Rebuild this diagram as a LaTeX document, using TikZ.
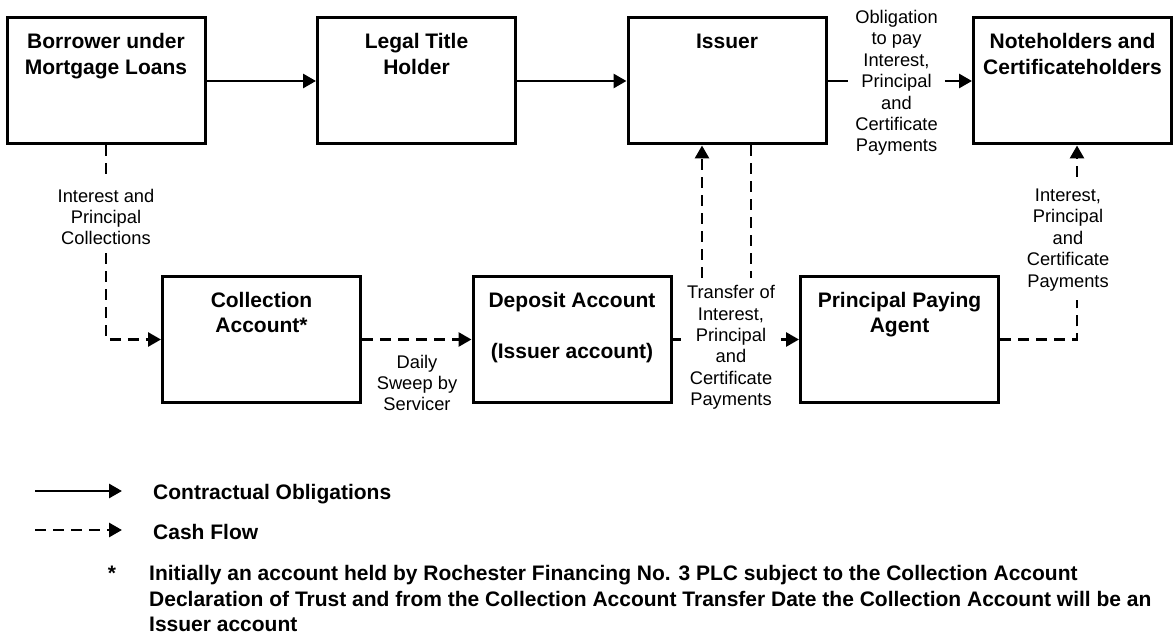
\documentclass[tikz,border=0pt]{standalone}
\usepackage{fontspec}
\setmainfont{Liberation Sans}
\usetikzlibrary{arrows.meta,calc}
\newcommand\titlefont{\fontsize{21}{25.3}\selectfont\bfseries}
\newcommand\lblfont{\fontsize{18.3}{21.4}\selectfont}
\begin{document}
\begin{tikzpicture}[x=1pt,y=-1pt,
  box/.style={draw, line width=3pt, minimum width=198pt, minimum height=126pt, inner sep=0pt},
  title/.style={anchor=north, inner sep=0pt, align=center, font=\titlefont},
  lbl/.style={align=center, font=\lblfont, inner xsep=7pt, inner ysep=8pt},
  tip/.style={-{Triangle[length=13pt,width=14pt]}},
  plainln/.style={line width=2.8pt},
  solidln/.style={plainln, tip},
  cashln/.style={line width=2.8pt, dash pattern=on 11pt off 7pt},
  cashar/.style={cashln, tip},
  legtext/.style={anchor=west, inner sep=0pt, font=\titlefont}]
\useasboundingbox (0,0) rectangle (1176,636);

% boxes
\node[box] (bor)  at (106,81) {};
\node[box] (leg)  at (416.5,81) {};
\node[box] (iss)  at (727,81) {};
\node[box] (note) at (1072.5,81) {};
\node[box] (col)  at (261.5,339.5) {};
\node[box] (dep)  at (572,339.5) {};
\node[box] (ppa)  at (899.5,339.5) {};

% box titles
\node[title] (borT)  at ([yshift=-17pt]bor.north)  {Borrower under\\Mortgage Loans};
\node[title] (legT)  at ([yshift=-17pt]leg.north)  {Legal Title\\Holder};
\node[title] (issT)  at ([yshift=-17pt]iss.north)  {Issuer};
\node[title] (noteT) at ([yshift=-17pt]note.north) {Noteholders and\\Certificateholders};
\node[title] (colT)  at ([yshift=-17pt]col.north)  {Collection\\Account*};
\node[title] (depT)  at ([yshift=-17pt]dep.north)  {Deposit Account\\[25.3pt](Issuer account)};
\node[title] (ppaT)  at ([yshift=-17pt]ppa.north)  {Principal Paying\\Agent};

% labels
\node[lbl] (obl) at (896.5,83) {Obligation\\to pay\\Interest,\\Principal\\and\\Certificate\\Payments};
\node[lbl] (ic)  at (106,217) {Interest and\\Principal\\Collections};
\node[lbl] (dsw) at (417,383) {Daily\\Sweep by\\Servicer};
\node[lbl, inner xsep=6pt] (tr) at (731,347.4) {Transfer of\\Interest,\\Principal\\and\\Certificate\\Payments};
\node[lbl] (ipc) at (1068,240) {Interest,\\Principal\\and\\Certificate\\Payments};

% contractual obligations
\draw[solidln] (bor.east) -- (leg.west);
\draw[solidln] (leg.east) -- (iss.west);
\draw[plainln] (iss.east) -- (iss.east -| obl.west);
\draw[solidln] (iss.east -| obl.east) -- (note.west);

% cash flows
\draw[cashln] (bor.south) -- (bor.south |- ic.north);
\draw[cashar] (bor.south |- ic.south) |- (col.west);
\draw[cashar] (col.east) -- (dep.west);
\draw[cashln] (dep.east) -- (dep.east -| tr.west);
\draw[cashar] (dep.east -| tr.east) -- (ppa.west);
\coordinate (u1) at (702,278);
\coordinate (d1) at (751,278);
\draw[cashar] (u1) -- (iss.south -| u1);
\draw[cashln] (iss.south -| d1) -- (d1);
\coordinate (p1) at (1077,300);
\coordinate (p2) at (1077,177);
\draw[cashln] (ppa.east) -| (p1);
\draw[cashar] (p2) -- (note.south -| p2);

% legend
\coordinate (la) at (35,491);
\coordinate (lb) at (122,491);
\draw[solidln] (la) -- (lb);
\node[legtext] (lt1) at (153,494) {Contractual Obligations};
\coordinate (lc) at (35,530);
\coordinate (ld) at (122,530);
\draw[cashar] (lc) -- (ld);
\node[legtext] (lt2) at (153,532) {Cash Flow};
\node[anchor=north, inner sep=0pt, font=\titlefont] (star) at (112,565.5) {*};
\node[anchor=north west, inner sep=0pt, align=left, font=\titlefont] (fn) at (149,565.5)
  {Initially an account held by Rochester Financing No. 3 PLC subject to the Collection Account\\
   Declaration of Trust and from the Collection Account Transfer Date the Collection Account will be an\\
   Issuer account};
\end{tikzpicture}
\end{document}
